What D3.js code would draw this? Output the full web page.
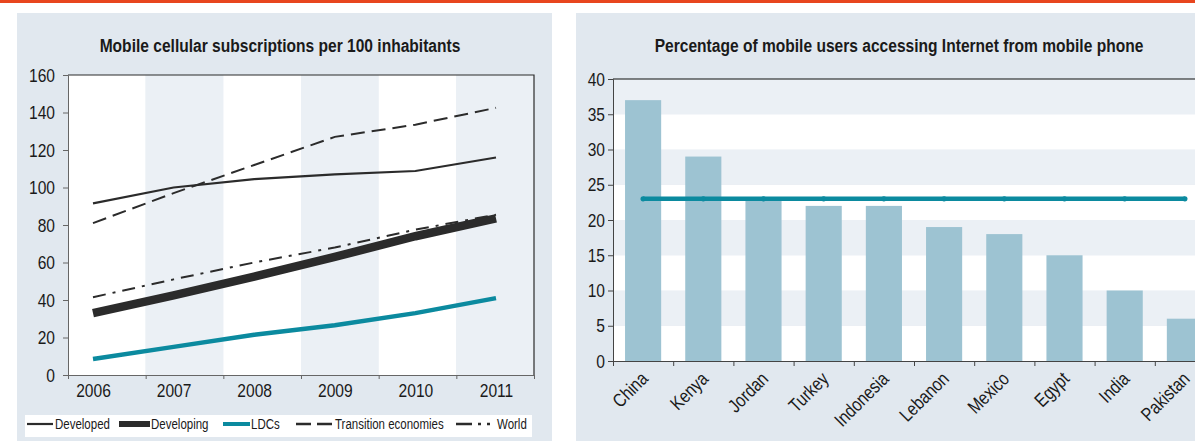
<!DOCTYPE html>
<html>
<head>
<meta charset="utf-8">
<script src="https://cdn.jsdelivr.net/npm/d3@7"></script>
<style>
    html, body { margin: 0; padding: 0; background: #ffffff; }
    svg { display: block; }
    text { font-family: "Liberation Sans", Arial, sans-serif; fill: #1a1a1a; }
</style>
</head>
<body>
<div id="chart"></div>
<script>
    // ---- data ----
    var years = ["2006", "2007", "2008", "2009", "2010", "2011"];
    var developed = [91.5, 100, 104.5, 107, 108.8, 116];
    var developing = [33, 42.5, 52.5, 63, 74, 83.5];
    var ldcs = [8.5, 15, 21.5, 26.5, 33, 41];
    var transition = [81, 97, 112, 127, 133.5, 142.5];
    var world = [41.5, 51, 60, 68, 77.5, 85.5];
    var subscriptionTicks = [0, 20, 40, 60, 80, 100, 120, 140, 160];

    var countries = ["China", "Kenya", "Jordan", "Turkey", "Indonesia", "Lebanon", "Mexico", "Egypt", "India", "Pakistan"];
    var mobileInternet = [37, 29, 23, 22, 22, 19, 18, 15, 10, 6];
    var averageShare = [23, 23, 23, 23, 23, 23, 23, 23, 23, 23];
    var shareTicks = [0, 5, 10, 15, 20, 25, 30, 35, 40];

    var width = 1195, height = 443;
    var panelBg = "#E1E8EF", bandBg = "#EBF0F5", dark = "#2b2b2b", teal = "#0B8A9F", barFill = "#9DC3D2";
    // no narrow font installed, so squeeze Liberation Sans to look like a condensed face
    var narrow = 0.82;

    var svg = d3.select("#chart")
        .append("svg")
        .attr("width", width)
        .attr("height", height);

    // orange rule across the top
    svg.append("rect")
        .attr("x", 0).attr("y", 0)
        .attr("width", width).attr("height", 3)
        .attr("fill", "#E8461E");

    // =================== left panel: line chart ===================
    var L = { left: 68, right: 534, top: 75, bottom: 375 };

    svg.append("rect")
        .attr("x", 17).attr("y", 13)
        .attr("width", 535).attr("height", 428)
        .attr("fill", panelBg);

    svg.append("text")
        .attr("class", "squeezed")
        .text("Mobile cellular subscriptions per 100 inhabitants")
        .attr("transform", "translate(280,52) scale(" + narrow + ",1)")
        .attr("text-anchor", "middle")
        .attr("font-weight", "bold")
        .attr("font-size", "19px");

    var yLine = d3.scaleLinear().domain([0, 160]).range([L.bottom, L.top]);
    var yearBand = d3.scaleBand().domain(years).range([L.left, L.right]);
    var yearPoint = d3.scalePoint().domain(years).range([93, 496]);

    // column shading
    svg.selectAll("rect.colband")
        .data(years)
        .enter()
        .append("rect")
        .attr("class", "colband")
        .attr("x", function (d) { return yearBand(d); })
        .attr("y", L.top)
        .attr("width", yearBand.bandwidth())
        .attr("height", L.bottom - L.top)
        .attr("fill", function (d, i) { return i % 2 ? bandBg : "#ffffff"; });

    // frame top and right
    svg.append("path")
        .attr("d", "M" + L.left + "," + L.top + "H" + L.right + "V" + L.bottom)
        .attr("fill", "none")
        .attr("stroke", dark)
        .attr("stroke-width", 1.2);

    // y axis
    var yAxisL = svg.append("g")
        .attr("transform", "translate(" + L.left + ",0)")
        .call(d3.axisLeft(yLine).tickValues(subscriptionTicks).tickSize(5).tickPadding(8));
    yAxisL.selectAll("text").attr("font-size", "19px").style("font-family", null);
    yAxisL.selectAll("line, path").attr("stroke", "#666");

    // x axis: ticks on band edges, labels on the year points
    var edgeScale = d3.scaleLinear().domain([0, years.length]).range([L.left, L.right]);
    var xTicksL = svg.append("g")
        .attr("transform", "translate(0," + L.bottom + ")")
        .call(d3.axisBottom(edgeScale).tickValues(d3.range(years.length + 1)).tickSize(4).tickFormat(""));
    xTicksL.selectAll("line, path").attr("stroke", "#666");

    var xLabelsL = svg.append("g")
        .attr("transform", "translate(0," + L.bottom + ")")
        .call(d3.axisBottom(yearPoint).tickSize(0).tickPadding(9));
    xLabelsL.select(".domain").remove();
    xLabelsL.selectAll("text").attr("font-size", "19px").style("font-family", null);

    // series
    var series = [
        { name: "Developed", values: developed, color: dark, width: 2.2, dash: null },
        { name: "Developing", values: developing, color: dark, width: 8.5, dash: null },
        { name: "LDCs", values: ldcs, color: teal, width: 4.5, dash: null },
        { name: "Transition economies", values: transition, color: dark, width: 2, dash: "14,7" },
        { name: "World", values: world, color: dark, width: 2, dash: "13,7,3,7" }
    ];

    var line = d3.line()
        .x(function (d, i) { return yearPoint(years[i]); })
        .y(function (d) { return yLine(d); });

    svg.selectAll("path.series")
        .data(series)
        .enter()
        .append("path")
        .attr("class", "series")
        .attr("d", function (d) { return line(d.values); })
        .attr("fill", "none")
        .attr("stroke", function (d) { return d.color; })
        .attr("stroke-width", function (d) { return d.width; })
        .attr("stroke-dasharray", function (d) { return d.dash; });

    // legend
    svg.append("rect")
        .attr("x", 25).attr("y", 415)
        .attr("width", 507).attr("height", 22)
        .attr("fill", "#ffffff");

    var legendPos = [[27, 53, 55], [119, 150, 151], [223, 250, 251], [296, 332, 335], [456, 493, 497]];
    var legendDash = [null, null, null, "15,6", "16,6,3,6,3"];
    var legendWidth = [2.2, 6, 4, 2.5, 2.5];

    var legend = svg.selectAll("g.legend")
        .data(series)
        .enter()
        .append("g")
        .attr("class", "legend");

    legend.append("line")
        .attr("x1", function (d, i) { return legendPos[i][0]; })
        .attr("x2", function (d, i) { return legendPos[i][1]; })
        .attr("y1", 424).attr("y2", 424)
        .attr("stroke", function (d) { return d.color; })
        .attr("stroke-width", function (d, i) { return legendWidth[i]; })
        .attr("stroke-dasharray", function (d, i) { return legendDash[i]; });

    legend.append("text")
        .text(function (d) { return d.name; })
        .attr("x", function (d, i) { return legendPos[i][2]; })
        .attr("y", 429)
        .attr("font-size", "14px");

    // =================== right panel: bar chart ===================
    var R = { left: 613, right: 1215, top: 79, bottom: 361 };

    svg.append("rect")
        .attr("x", 576).attr("y", 13)
        .attr("width", 619).attr("height", 428)
        .attr("fill", panelBg);

    svg.append("text")
        .attr("class", "squeezed")
        .text("Percentage of mobile users accessing Internet from mobile phone")
        .attr("transform", "translate(899,52) scale(" + narrow + ",1)")
        .attr("text-anchor", "middle")
        .attr("font-weight", "bold")
        .attr("font-size", "19px");

    var yBar = d3.scaleLinear().domain([0, 40]).range([R.bottom, R.top]);
    var xBar = d3.scaleBand().domain(countries).range([R.left, R.right]).paddingInner(0.4).paddingOuter(0.2);

    // the plot runs past the right edge of the page, as in the original
    var clip = svg.append("clipPath").attr("id", "page-clip")
        .append("rect").attr("x", 0).attr("y", 0).attr("width", width).attr("height", height);
    var plotR = svg.append("g").attr("clip-path", "url(#page-clip)");

    // horizontal shading every 5
    plotR.selectAll("rect.rowband")
        .data(shareTicks.slice(0, -1))
        .enter()
        .append("rect")
        .attr("class", "rowband")
        .attr("x", R.left)
        .attr("y", function (d) { return yBar(d + 5); })
        .attr("width", R.right - R.left)
        .attr("height", function (d) { return yBar(d) - yBar(d + 5); })
        .attr("fill", function (d, i) { return i % 2 ? bandBg : "#ffffff"; });

    plotR.append("line")
        .attr("x1", R.left).attr("x2", R.right)
        .attr("y1", R.top).attr("y2", R.top)
        .attr("stroke", "#111")
        .attr("stroke-width", 1.2);

    plotR.selectAll("rect.bar")
        .data(mobileInternet)
        .enter()
        .append("rect")
        .attr("class", "bar")
        .attr("x", function (d, i) { return xBar(countries[i]); })
        .attr("y", function (d) { return yBar(d); })
        .attr("width", xBar.bandwidth())
        .attr("height", function (d) { return R.bottom - yBar(d); })
        .attr("fill", barFill);

    // average line
    var avgLine = d3.line()
        .x(function (d, i) { return xBar(countries[i]) + xBar.bandwidth() / 2; })
        .y(function (d) { return yBar(d); });

    plotR.append("path")
        .attr("d", avgLine(averageShare))
        .attr("fill", "none")
        .attr("stroke", teal)
        .attr("stroke-width", 4.5);

    plotR.selectAll("circle.avg")
        .data(averageShare)
        .enter()
        .append("circle")
        .attr("class", "avg")
        .attr("cx", function (d, i) { return xBar(countries[i]) + xBar.bandwidth() / 2; })
        .attr("cy", function (d) { return yBar(d); })
        .attr("r", 2.6)
        .attr("fill", teal);

    // y axis
    var yAxisR = svg.append("g")
        .attr("transform", "translate(" + R.left + ",0)")
        .call(d3.axisLeft(yBar).tickValues(shareTicks).tickSize(5).tickPadding(3));
    yAxisR.selectAll("text").attr("font-size", "19px").style("font-family", null);
    yAxisR.selectAll("line, path").attr("stroke", "#444");

    // x axis with ticks on band edges
    var edgeBar = d3.scaleLinear().domain([0, countries.length]).range([R.left, R.right]);
    var xTicksR = plotR.append("g")
        .attr("transform", "translate(0," + R.bottom + ")")
        .call(d3.axisBottom(edgeBar).tickValues(d3.range(countries.length + 1)).tickSize(5).tickFormat(""));
    xTicksR.selectAll("line, path").attr("stroke", "#444");

    svg.selectAll("text.country")
        .data(countries)
        .enter()
        .append("text")
        .attr("class", "country squeezed")
        .text(function (d) { return d; })
        .attr("text-anchor", "end")
        .attr("font-size", "19px")
        .attr("transform", function (d) {
            return "translate(" + (xBar(d) + xBar.bandwidth() / 2 + 6) + "," + (R.bottom + 19) + ") rotate(-45) scale(" + narrow + ",1)";
        });

    // condense the remaining labels horizontally, keeping their anchors
    svg.selectAll("text:not(.squeezed)").each(function () {
        var len = this.getComputedTextLength();
        this.setAttribute("textLength", (len * narrow).toFixed(1));
        this.setAttribute("lengthAdjust", "spacingAndGlyphs");
    });
</script>
</body>
</html>
